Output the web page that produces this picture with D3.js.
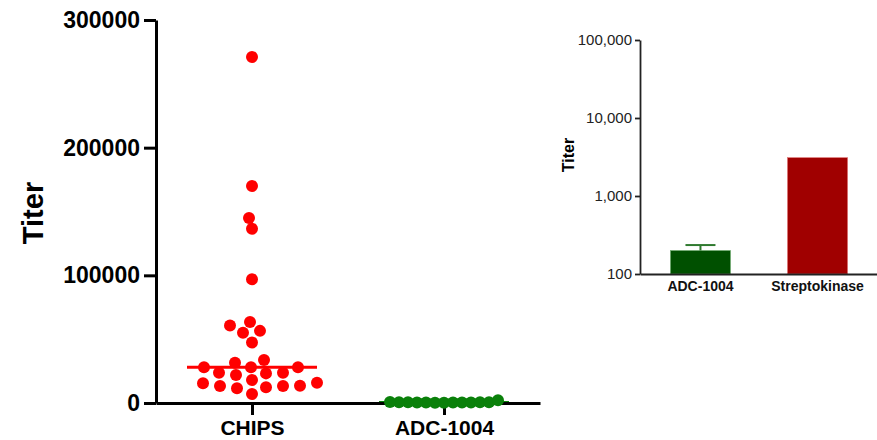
<!DOCTYPE html>
<html>
<head>
<meta charset="utf-8">
<script src="https://cdn.jsdelivr.net/npm/d3@7"></script>
<style>
  body { margin: 0; background: #fff; }
  svg, svg text { font-family: "Liberation Sans", Arial, sans-serif; }
</style>
</head>
<body>
<svg id="chart" width="877" height="440"></svg>
<script>
// ---- data ----
const scatterGroups = ["CHIPS", "ADC-1004"];
const chipsTiters = [271000, 170000, 145000, 136500, 97000, 63500, 60700, 56500, 55000, 47400,
  33600, 31500, 28000, 28000, 28000, 23700, 23700, 23200, 21900, 18000,
  15900, 15400, 13500, 13300, 13300, 12300, 11500, 7000];
const adcTiters = [600, 400, 300, 500, 200, 700, 350, 450, 250, 550, 300, 650, 2200];
const leftTicks = [0, 100000, 200000, 300000];

const barCategories = ["ADC-1004", "Streptokinase"];
const barMeans = [200, 3100];
const barUpper = [235, 3100];
const rightTicks = [100, 1000, 10000, 100000];

const svg = d3.select("#chart");

// ---- left: column scatter ----
const xL = d3.scalePoint().domain(scatterGroups).range([156, 540]).padding(0.5);
const yL = d3.scaleLinear().domain([0, 300000]).range([403, 20]);

const groupColor = d3.scaleOrdinal().domain(scatterGroups).range(["#ff0000", "#0a800a"]);
const groupGap = { "CHIPS": [17, 11], "ADC-1004": [9, 11] };
const groupValues = { "CHIPS": chipsTiters, "ADC-1004": adcTiters };

// simple beeswarm: push each point sideways until it clears the others
function swarm(values, cx, gap) {
  const [gx, gy] = gap;
  const placed = [];
  values.slice().sort(d3.ascending).forEach(v => {
    const y = yL(v);
    let dx = 0;
    for (let k = 0; k < 300; k++) {
      const cands = k === 0 ? [0] : [-k, k];
      const ok = cands.find(c => placed.every(p => ((p.dx - c) / gx) ** 2 + ((p.y - y) / gy) ** 2 >= 1));
      if (ok !== undefined) { dx = ok; break; }
    }
    placed.push({ v, y, dx });
  });
  return placed.map(p => ({ x: cx + p.dx, y: p.y }));
}

scatterGroups.forEach(g => {
  const cx = xL(g);
  const color = groupColor(g);
  const med = d3.median(groupValues[g]);

  svg.append("line")
    .attr("x1", cx - 65).attr("x2", cx + 65)
    .attr("y1", yL(med)).attr("y2", yL(med))
    .attr("stroke", color).attr("stroke-width", 3);

  svg.append("g").attr("class", "dots").selectAll("circle")
    .data(swarm(groupValues[g], cx, groupGap[g]))
    .join("circle")
    .attr("cx", d => d.x).attr("cy", d => d.y)
    .attr("r", 6)
    .attr("fill", color);
});

const axL = svg.append("g")
  .attr("transform", "translate(156,0)")
  .call(d3.axisLeft(yL).tickValues(leftTicks).tickFormat(d3.format("d")).tickSize(12).tickSizeOuter(0).tickPadding(4));
const axB = svg.append("g")
  .attr("transform", "translate(0,403)")
  .call(d3.axisBottom(xL).tickSize(12).tickSizeOuter(0));

[axL, axB].forEach(ax => {
  ax.attr("font-family", null);
  ax.selectAll("path, line").attr("stroke", "#000").attr("stroke-width", 3);
  ax.selectAll("text").attr("fill", "#000").style("font-size", "23px").style("font-weight", "bold");
});
axB.selectAll("text").style("font-size", "21px").attr("y", 32).attr("dy", null);
svg.selectAll("g.dots").raise();

svg.append("text")
  .attr("transform", "translate(43,213) rotate(-90)")
  .attr("text-anchor", "middle")
  .style("font-size", "29px").style("font-weight", "bold")
  .text("Titer");

// ---- right: bar chart (log) ----
const xR = d3.scaleBand().domain(barCategories).range([640, 878]).paddingInner(0.487).paddingOuter(0.26);
const yR = d3.scaleLog().domain([100, 100000]).range([274, 40]);
const barColor = d3.scaleOrdinal().domain(barCategories).range(["#005000", "#a00000"]);
const barEdge = d3.scaleOrdinal().domain(barCategories).range(["#6fae6f", "#e07070"]);

const bars = barCategories.map((c, i) => ({ c, mean: barMeans[i], upper: barUpper[i] }));

svg.append("g").selectAll("rect")
  .data(bars)
  .join("rect")
  .attr("x", d => xR(d.c))
  .attr("width", xR.bandwidth())
  .attr("y", d => yR(d.mean))
  .attr("height", d => yR(100) - yR(d.mean))
  .attr("fill", d => barColor(d.c))
  .attr("stroke", d => barEdge(d.c))
  .attr("stroke-width", 0.6);

const errs = svg.append("g").selectAll("g")
  .data(bars.filter(d => d.upper > d.mean))
  .join("g");
errs.append("line")
  .attr("x1", d => xR(d.c) + xR.bandwidth() / 2).attr("x2", d => xR(d.c) + xR.bandwidth() / 2)
  .attr("y1", d => yR(d.mean)).attr("y2", d => yR(d.upper))
  .attr("stroke", "#2f7a2f").attr("stroke-width", 2);
errs.append("line")
  .attr("x1", d => xR(d.c) + xR.bandwidth() / 2 - 15).attr("x2", d => xR(d.c) + xR.bandwidth() / 2 + 15)
  .attr("y1", d => yR(d.upper)).attr("y2", d => yR(d.upper))
  .attr("stroke", "#2f7a2f").attr("stroke-width", 2);

const axR = svg.append("g")
  .attr("transform", "translate(640,0)")
  .call(d3.axisLeft(yR).tickValues(rightTicks).tickFormat(d3.format(",")).tickSize(5).tickSizeOuter(0).tickPadding(3));
axR.attr("font-family", null);
axR.selectAll("path, line").attr("stroke", "#222").attr("stroke-width", 1.8);
axR.selectAll("text").attr("fill", "#222").style("font-size", "15px");

const axRB = svg.append("g")
  .attr("transform", "translate(0,274)")
  .call(d3.axisBottom(xR).tickSize(0).tickSizeOuter(0).tickPadding(7));
axRB.attr("font-family", null);
axRB.select("path").attr("stroke", "#222").attr("stroke-width", 1.8);
axRB.selectAll("text").attr("fill", "#111").style("font-size", "14px").style("font-weight", "bold");

svg.append("text")
  .attr("transform", "translate(574,155) rotate(-90)")
  .attr("text-anchor", "middle")
  .style("font-size", "16px").style("font-weight", "bold")
  .text("Titer");
</script>
</body>
</html>
